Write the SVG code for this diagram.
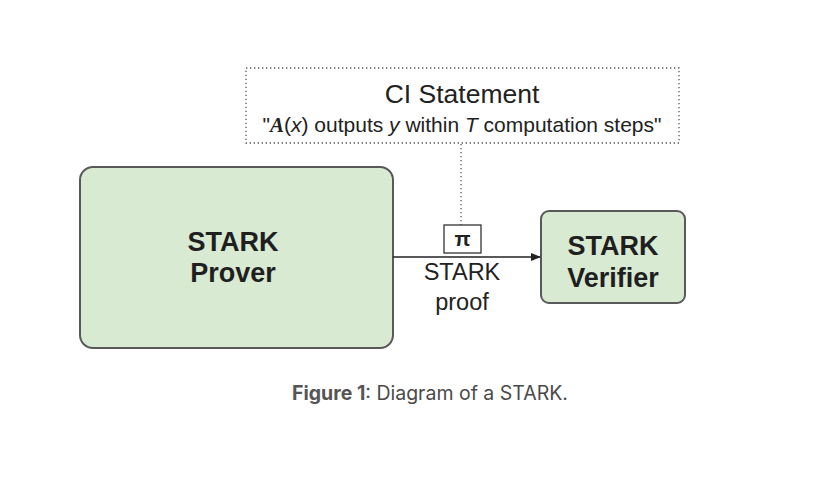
<svg xmlns="http://www.w3.org/2000/svg" width="837" height="478" viewBox="0 0 837 478">
<style>
.node{fill:#d9ead3;stroke:#595959;stroke-width:2}
.t{font-family:"Liberation Sans",Arial,sans-serif;fill:#222;text-anchor:middle}
.b{font-weight:bold;font-size:27px;fill:#1f1f1f}
.dot{fill:none;stroke:#555;stroke-width:1.3;stroke-dasharray:1.3 2.7}
</style>
<defs>
<marker id="ah" markerWidth="10" markerHeight="8" refX="9" refY="4" orient="auto" markerUnits="userSpaceOnUse">
<path d="M0,0 L10,4 L0,8 z" fill="#222"/>
</marker>
</defs>
<rect width="837" height="478" fill="#fff"/>
<g id="statement">
<rect class="dot" x="246" y="68" width="433" height="75"/>
<text class="t" x="462" y="103" font-size="26.5">CI Statement</text>
<text class="t" x="462" y="132" font-size="21">"<tspan font-family="Liberation Serif,serif" font-weight="bold" font-style="italic">A</tspan>(<tspan font-style="italic">x</tspan>) outputs <tspan font-style="italic">y</tspan> within <tspan font-style="italic">T</tspan> computation steps"</text>
</g>
<g id="prover">
<rect class="node" x="80" y="167" width="313" height="181" rx="13"/>
<text class="t b" x="233" y="251">STARK</text>
<text class="t b" x="233" y="282">Prover</text>
</g>
<g id="verifier">
<rect class="node" x="541" y="211" width="144" height="92" rx="8"/>
<text class="t b" x="613" y="255">STARK</text>
<text class="t b" x="613" y="287">Verifier</text>
</g>
<g id="connectors">
<line class="dot" x1="461" y1="144" x2="461" y2="225"/>
<line x1="393" y1="257" x2="540" y2="257" stroke="#222" stroke-width="1.3" marker-end="url(#ah)"/>
</g>
<g id="proof">
<rect x="444" y="225" width="37" height="28" fill="#fff" stroke="#333" stroke-width="1.3"/>
<text class="t" x="462.5" y="246" font-size="21" font-family="Liberation Serif,serif" font-weight="bold">π</text>
<text class="t" x="462" y="280" font-size="23.5" fill="#333">STARK</text>
<text class="t" x="462" y="310" font-size="23.5" fill="#333">proof</text>
</g>
<text x="292" y="400" font-family="Inter,'Liberation Sans',sans-serif" font-size="19.5" fill="#4a4a4a"><tspan font-weight="bold" fill="#555">Figure 1</tspan>: Diagram of a STARK.</text>
</svg>
